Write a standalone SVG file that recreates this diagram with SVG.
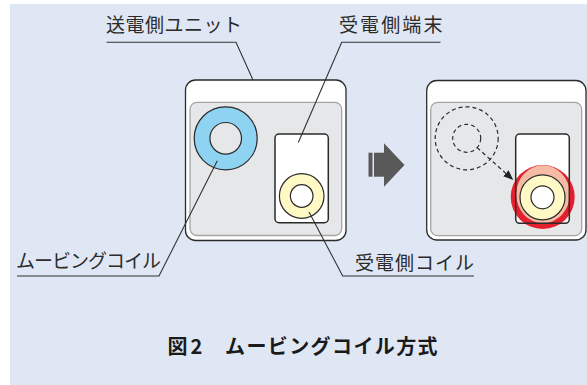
<svg xmlns="http://www.w3.org/2000/svg" width="587" height="385" viewBox="0 0 587 385">
<style>
.outer{fill:#fff;stroke:#2b2b2b;stroke-width:1.3}
.inner{fill:#e6e7e8;stroke:#a3a5a8;stroke-width:1.3}
.phone{fill:#fff;stroke:#2b2b2b;stroke-width:1.5}
.ln{fill:none;stroke:#333;stroke-width:1.1}
.ring{stroke:#2b2b2b;stroke-width:1.2}
.dash{fill:none;stroke:#2b2b2b;stroke-width:1.2;stroke-dasharray:4 3}
.lbl{font-family:"Noto Sans CJK JP","Noto Sans",sans-serif;font-size:19px;fill:#2b2b2b}
.cap{font-family:"Noto Sans CJK JP","Noto Sans",sans-serif;font-size:20px;font-weight:700;fill:#1a1a1a}
</style>
<defs>
<marker id="ah" markerUnits="userSpaceOnUse" markerWidth="12" markerHeight="10" refX="10" refY="4" orient="auto">
<path d="M0,0 L10,4 L0,8 Z" fill="#222"/>
</marker>
</defs>
<rect x="10" y="4" width="577" height="381" fill="#e0e7f4"/>

<g id="sending-unit">
<rect class="outer" x="185.5" y="80" width="160.5" height="160.5" rx="10"/>
<rect class="inner" x="190" y="102.3" width="151.7" height="133.2" rx="7"/>
<circle class="ring" cx="225.7" cy="138.3" r="31.5" fill="#8ed3f2"/>
<circle class="ring" cx="225.7" cy="138.3" r="15.8" fill="#e6e7e8"/>
<g id="receiving-terminal">
<rect class="phone" x="275" y="134" width="53.3" height="88.7" rx="4"/>
<circle class="ring" cx="301.7" cy="196" r="22.3" fill="#fff9c6"/>
<circle class="ring" cx="301.7" cy="196" r="11.3" fill="#fff"/>
</g>
</g>

<g id="transition-arrow" fill="#595959">
<rect x="368.5" y="152.7" width="4" height="24"/>
<rect x="374" y="152.7" width="10.5" height="24"/>
<polygon points="384,143.3 404.5,165 384,186.7"/>
</g>

<g id="sending-unit-after">
<rect class="outer" x="426.7" y="80.5" width="159.3" height="159.5" rx="10"/>
<rect class="inner" x="430.7" y="102.3" width="151" height="133.4" rx="7"/>
<circle class="dash" cx="466.7" cy="138.3" r="31.5"/>
<circle class="dash" cx="466.7" cy="138.3" r="14"/>
<g id="receiving-terminal-after">
<rect x="515.7" y="134" width="53.6" height="89.3" rx="4" fill="#fff"/>
<circle cx="542.7" cy="197" r="32" fill="#e5202e"/>
<ellipse cx="543" cy="194.2" rx="26.8" ry="29" fill="#f6bba4"/>
<rect x="515.7" y="134" width="53.6" height="89.3" rx="4" fill="none" stroke="#2b2b2b" stroke-width="1.5"/>
<circle class="ring" cx="542.5" cy="197.3" r="22.5" fill="#fff9c6"/>
<circle class="ring" cx="542.5" cy="197.3" r="11.5" fill="#fff"/>
</g>
</g>

<g id="connectors">
<polyline class="ln" points="106.5,42.3 236,42.3 253,80"/>
<polyline class="ln" points="440.5,42.3 341.7,42.3 298.3,142.5"/>
<polyline class="ln" points="17,276 159,276 217.3,160.7"/>
<polyline class="ln" points="474,276 342.7,276 309,212"/>
<line class="dash" x1="477.1" y1="147.6" x2="513.3" y2="180" marker-end="url(#ah)"/>
</g>

<g id="labels">
<text class="lbl" x="106" y="32" letter-spacing="0.5">送電側ユニット</text>
<text class="lbl" x="339" y="32" letter-spacing="2.1">受電側端末</text>
<text class="lbl" x="16" y="267.5" letter-spacing="-1">ムービングコイル</text>
<text class="lbl" x="355" y="270" letter-spacing="1">受電側コイル</text>
<text class="cap" x="167.5" y="353.5">図</text>
<text class="cap" x="190.5" y="353.5">2</text>
<text class="cap" x="225" y="353.5" letter-spacing="1.4">ムービングコイル方式</text>
</g>
</svg>
